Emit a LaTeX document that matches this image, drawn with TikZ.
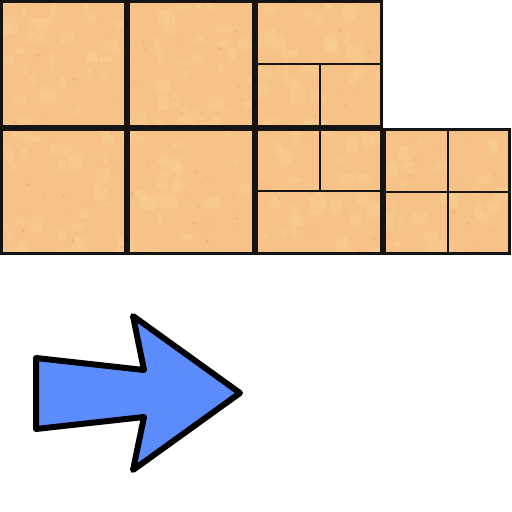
\documentclass[tikz,border=0pt]{standalone}
\definecolor{tile}{RGB}{247,194,136}
\definecolor{tilelight}{RGB}{252,222,160}
\definecolor{tilered}{RGB}{232,130,100}
\definecolor{arrowblue}{RGB}{92,140,252}
\definecolor{edge}{RGB}{22,20,14}
\tikzset{
  bigedge/.style={draw=edge, line width=2.9pt},
  subedge/.style={draw=edge, line width=2pt},
  arrowshape/.style={fill=arrowblue, draw=black, line width=6pt, line join=round}
}
\begin{document}
\begin{tikzpicture}[x=1pt,y=-1pt]
\useasboundingbox (0,0) rectangle (512,512);
\fill[white] (0,0) rectangle (512,512);
% tile surface with texture
\begin{scope}
  \clip (0,0) rectangle (383,255) (383,128) rectangle (511,255);
  \fill[tile] (0,0) rectangle (512,255);
  \pgfmathsetseed{11}
  \foreach \i in {1,...,260}{
    \pgfmathsetmacro\px{rnd*512}
    \pgfmathsetmacro\py{rnd*255}
    \pgfmathsetmacro\pw{4+rnd*14}
    \pgfmathsetmacro\ph{4+rnd*14}
    \fill[tilelight, opacity=0.18, rounded corners=2pt] (\px,\py) rectangle ++(\pw,\ph);
  }
  \foreach \i in {1,...,120}{
    \pgfmathsetmacro\px{rnd*512}
    \pgfmathsetmacro\py{rnd*255}
    \pgfmathsetmacro\pr{0.5+rnd*1.2}
    \fill[tilered, opacity=0.3] (\px,\py) circle (\pr);
  }
\end{scope}
% subdivision lines
\draw[subedge] (255,64) -- (383,64);
\draw[subedge] (320,64) -- (320,128);
\draw[subedge] (320,128) -- (320,191);
\draw[subedge] (255,191) -- (383,191);
\draw[subedge] (448,128) -- (448,255);
\draw[subedge] (383,192) -- (511,192);
% big tile borders
\draw[bigedge] (1.45,1.45) rectangle (125.55,126.55);
\draw[bigedge] (128.45,1.45) rectangle (253.55,126.55);
\draw[bigedge] (256.45,1.45) rectangle (381.55,126.55);
\draw[bigedge] (1.45,129.45) rectangle (125.55,253.55);
\draw[bigedge] (128.45,129.45) rectangle (253.55,253.55);
\draw[bigedge] (256.45,129.45) rectangle (381.55,253.55);
\draw[bigedge] (384.45,129.45) rectangle (509.55,253.55);
% arrow
\draw[arrowshape] (36,358) -- (144,370) -- (133,316) -- (240,393) -- (133,470) -- (144,417) -- (36,429) -- cycle;
\end{tikzpicture}
\end{document}
